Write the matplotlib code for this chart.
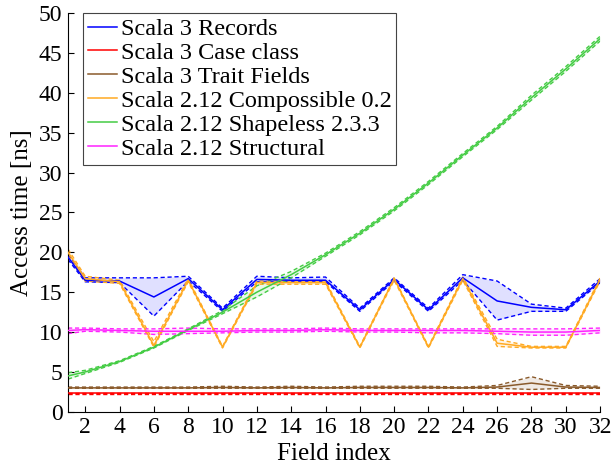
import matplotlib
matplotlib.use("Agg")
import matplotlib.pyplot as plt

plt.rcParams["font.family"] = ["Liberation Serif", "DejaVu Serif"]

x = [1, 2, 4, 6, 8, 10, 12, 14, 16, 18, 20, 22, 24, 26, 28, 30, 32]

records = [19.4, 16.5, 16.4, 14.4, 16.7, 12.8, 16.6, 16.5, 16.5, 12.8, 16.6, 12.8, 16.8, 13.9, 13.1, 12.8, 16.4]
records_hi = [19.7, 16.8, 16.8, 16.8, 17.0, 13.0, 17.0, 16.8, 16.9, 13.0, 16.8, 13.0, 17.2, 16.4, 13.5, 13.0, 16.7]
records_lo = [19.1, 16.3, 16.2, 12.0, 16.4, 12.6, 16.3, 16.3, 16.3, 12.6, 16.4, 12.6, 16.5, 11.5, 12.6, 12.6, 16.2]

caseclass = [2.3, 2.3, 2.3, 2.3, 2.3, 2.3, 2.3, 2.3, 2.3, 2.3, 2.3, 2.3, 2.3, 2.3, 2.3, 2.3, 2.3]
caseclass_hi = [2.35, 2.35, 2.35, 2.35, 2.35, 2.35, 2.35, 2.35, 2.35, 2.35, 2.35, 2.35, 2.35, 2.35, 2.35, 2.35, 2.35]
caseclass_lo = [2.25, 2.25, 2.25, 2.25, 2.25, 2.25, 2.25, 2.25, 2.25, 2.25, 2.25, 2.25, 2.25, 2.25, 2.25, 2.25, 2.25]

trait = [3.0, 3.0, 3.0, 3.0, 3.0, 3.05, 3.0, 3.05, 3.0, 3.05, 3.05, 3.05, 3.0, 3.1, 3.6, 3.1, 3.05]
trait_hi = [3.1, 3.1, 3.1, 3.1, 3.1, 3.2, 3.1, 3.2, 3.1, 3.2, 3.2, 3.2, 3.1, 3.3, 4.4, 3.3, 3.2]
trait_lo = [2.95, 2.95, 2.95, 2.95, 2.95, 2.95, 2.95, 2.95, 2.95, 2.95, 2.95, 2.95, 2.95, 2.95, 2.8, 2.95, 2.95]

compossible = [20.0, 16.7, 16.3, 8.3, 16.5, 8.1, 16.2, 16.2, 16.2, 8.1, 16.7, 8.1, 16.7, 8.6, 8.1, 8.1, 16.6]
compossible_hi = [20.4, 17.0, 16.5, 8.8, 16.7, 8.2, 16.4, 16.4, 16.4, 8.2, 16.8, 8.2, 16.9, 9.1, 8.2, 8.2, 16.8]
compossible_lo = [19.6, 16.4, 16.1, 8.1, 16.3, 8.0, 16.0, 16.0, 16.0, 8.0, 16.5, 8.0, 16.5, 8.2, 8.0, 8.0, 16.4]

shapeless = [4.5, 5.0, 6.3, 8.1, 10.3, 12.5, 15.0, 17.2, 19.7, 22.4, 25.4, 28.7, 32.2, 35.6, 39.4, 43.0, 46.8]
shapeless_hi = [4.9, 5.2, 6.4, 8.2, 10.4, 12.7, 15.8, 17.6, 19.9, 22.6, 25.6, 28.9, 32.4, 35.8, 39.7, 43.3, 47.1]
shapeless_lo = [4.1, 4.8, 6.2, 8.0, 10.2, 12.3, 14.4, 16.8, 19.5, 22.2, 25.2, 28.5, 32.0, 35.4, 39.1, 42.7, 46.5]

structural = [10.2, 10.3, 10.2, 10.1, 10.1, 10.1, 10.2, 10.2, 10.3, 10.2, 10.2, 10.2, 10.2, 10.1, 10.0, 10.0, 10.2]
structural_hi = [10.5, 10.5, 10.4, 10.4, 10.5, 10.4, 10.4, 10.4, 10.5, 10.4, 10.4, 10.4, 10.4, 10.4, 10.4, 10.4, 10.5]
structural_lo = [9.8, 10.1, 10.0, 9.7, 9.8, 9.9, 10.0, 10.0, 10.1, 10.0, 10.0, 9.9, 9.9, 9.8, 9.6, 9.6, 9.9]

series = [
    ("Scala 3 Records", records, records_hi, records_lo, "#0000ff"),
    ("Scala 3 Case class", caseclass, caseclass_hi, caseclass_lo, "#ff0000"),
    ("Scala 3 Trait Fields", trait, trait_hi, trait_lo, "#8a5a2b"),
    ("Scala 2.12 Compossible 0.2", compossible, compossible_hi, compossible_lo, "#ffaa22"),
    ("Scala 2.12 Shapeless 2.3.3", shapeless, shapeless_hi, shapeless_lo, "#44cc44"),
    ("Scala 2.12 Structural", structural, structural_hi, structural_lo, "#ff22ff"),
]

fig = plt.figure(figsize=(6.13, 4.69), dpi=100)
ax = fig.add_axes([0.111, 0.122, 0.868, 0.85])

for name, mid, hi, lo, col in series:
    ax.fill_between(x, lo, hi, color=col, alpha=0.12, lw=0, zorder=1)
    ax.plot(x, hi, color=col, lw=1.0, ls=(0, (3, 2)), zorder=2)
    ax.plot(x, lo, color=col, lw=1.0, ls=(0, (3, 2)), zorder=2)
    ax.plot(x, mid, color=col, lw=1.1, label=name, zorder=3)

ax.set_xlim(1, 32)
ax.set_ylim(0, 50)
ax.set_xticks(range(2, 33, 2))
ax.set_yticks(range(0, 51, 5))
ax.tick_params(direction="in", length=4, labelsize=17, pad=4)
for s in ("top", "right"):
    ax.spines[s].set_visible(False)
ax.set_xlabel("Field index", fontsize=18, labelpad=3)
ax.set_ylabel("Access time [ns]", fontsize=18, labelpad=4)

leg = ax.legend(loc="upper left", fontsize=17.5, frameon=True, fancybox=False,
                edgecolor="#444444", framealpha=1, handlelength=1.2,
                handletextpad=0.15, labelspacing=0.08, borderpad=0.2,
                borderaxespad=0.0, bbox_to_anchor=(0.028, 1.0))
leg.get_frame().set_linewidth(0.8)

fig.savefig("out.png", dpi=100)
